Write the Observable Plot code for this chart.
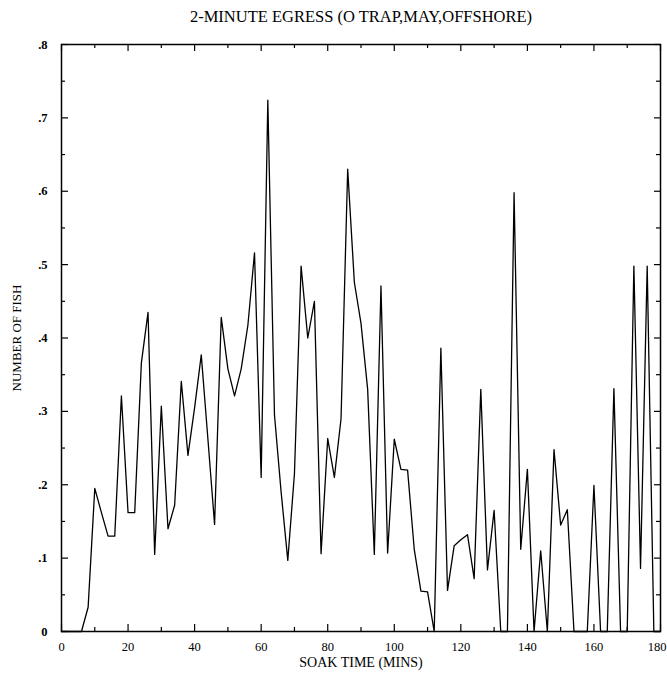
<!DOCTYPE html>
<html><head><meta charset="utf-8">
<script src="https://cdn.jsdelivr.net/npm/d3@7"></script>
<script src="https://cdn.jsdelivr.net/npm/@observablehq/plot@0.6"></script>
<style>body{margin:0;background:#fff}</style>
</head><body><div id="chart"></div>
<script>
const chartTitle = "2-MINUTE EGRESS (O TRAP,MAY,OFFSHORE)";
const xLabel = "SOAK TIME (MINS)";
const yLabel = "NUMBER OF FISH";

const soakMinutes = [0,2,4,6,8,10,12,14,16,18,20,22,24,26,28,30,32,34,36,38,40,42,44,46,48,50,52,54,56,58,
  60,62,64,66,68,70,72,74,76,78,80,82,84,86,88,90,92,94,96,98,100,102,104,106,108,110,112,114,116,118,
  120,122,124,126,128,130,132,134,136,138,140,142,144,146,148,150,152,154,156,158,160,162,164,166,168,170,172,174,176,178,180];
const fishCount = [0,0,0,0,0.033,0.195,0.162,0.13,0.13,0.321,0.162,0.162,0.366,0.435,0.105,0.307,0.14,0.172,0.341,0.24,
  0.305,0.377,0.262,0.146,0.428,0.358,0.321,0.358,0.417,0.516,
  0.21,0.724,0.295,0.19,0.097,0.215,0.498,0.40,0.45,0.106,0.263,0.21,0.29,0.63,0.476,0.42,0.33,0.105,0.471,0.107,
  0.262,0.221,0.22,0.112,0.055,0.054,0,0.386,0.056,0.117,
  0.125,0.132,0.072,0.33,0.084,0.165,0,0,0.598,0.112,0.221,0,0.11,0,0.248,0.145,0.166,0,0,0,
  0.199,0,0,0.331,0,0,0.498,0.086,0.498,0,0];

const xTickValues = [0,20,40,60,80,100,120,140,160,180];
const xMinorTicks = [10,30,50,70,90,110,130,150,170];
const yTickValues = [0,0.1,0.2,0.3,0.4,0.5,0.6,0.7,0.8];
const yTickLabels = ["0",".1",".2",".3",".4",".5",".6",".7",".8"];
const yMinorTicks = [0.05,0.15,0.25,0.35,0.45,0.55,0.65,0.75];

const data = soakMinutes.map((m, i) => ({m, n: fishCount[i]}));
const font = "Liberation Serif";

const W = 667, H = 677, mL = 61, mR = 7, mT = 44, mB = 46;
const frameW = W - mL - mR, frameH = H - mT - mB;
const tickStyle = {stroke: "#000", strokeWidth: 1.2};
const lastX = xTickValues[xTickValues.length - 1];

const chart = Plot.plot({
  width: W,
  height: H,
  marginLeft: mL,
  marginRight: mR,
  marginTop: mT,
  marginBottom: mB,
  style: {fontFamily: font, background: "#fff", color: "#000"},
  x: {domain: [0, 180], axis: null},
  y: {domain: [0, 0.8], axis: null},
  marks: [
    Plot.frame({stroke: "#000", strokeWidth: 1.5}),
    // bottom ticks (pointing up) and top ticks (pointing down)
    Plot.tickX(xTickValues, {x: d => d, insetTop: frameH - 7, ...tickStyle}),
    Plot.tickX(xMinorTicks, {x: d => d, insetTop: frameH - 4, ...tickStyle}),
    Plot.tickX(xTickValues, {x: d => d, insetBottom: frameH - 7, ...tickStyle}),
    Plot.tickX(xMinorTicks, {x: d => d, insetBottom: frameH - 4, ...tickStyle}),
    // left ticks (pointing right) and right ticks (pointing left)
    Plot.tickY(yTickValues, {y: d => d, insetRight: frameW - 7, ...tickStyle}),
    Plot.tickY(yMinorTicks, {y: d => d, insetRight: frameW - 4, ...tickStyle}),
    Plot.tickY(yTickValues, {y: d => d, insetLeft: frameW - 6, ...tickStyle}),
    Plot.tickY(yMinorTicks, {y: d => d, insetLeft: frameW - 4, ...tickStyle}),
    // tick labels
    Plot.text(xTickValues.filter(d => d !== lastX), {x: d => d, frameAnchor: "bottom", dy: 19, fontSize: 12.5, fill: "#000", text: d => String(d)}),
    Plot.text([lastX], {x: d => d, frameAnchor: "bottom", dy: 19, dx: 6, textAnchor: "end", fontSize: 12.5, fill: "#000", text: d => String(d)}),
    Plot.text(yTickValues, {y: d => d, frameAnchor: "left", dx: -14, textAnchor: "end", fontSize: 12.5, fontWeight: "bold",
      fill: "#000", text: (d, i) => yTickLabels[i]}),
    Plot.line(data, {x: "m", y: "n", stroke: "#000", strokeWidth: 1.3}),
    Plot.text([chartTitle], {frameAnchor: "top", dy: -34, fontSize: 16.5, fill: "#000"}),
    Plot.text([xLabel], {frameAnchor: "bottom", dy: 35, fontSize: 14, fill: "#000"}),
    Plot.text([yLabel], {frameAnchor: "left", dx: -45, rotate: -90, textAnchor: "middle", fontSize: 13, fill: "#000"})
  ]
});
document.getElementById("chart").appendChild(chart);
</script>
</body></html>
